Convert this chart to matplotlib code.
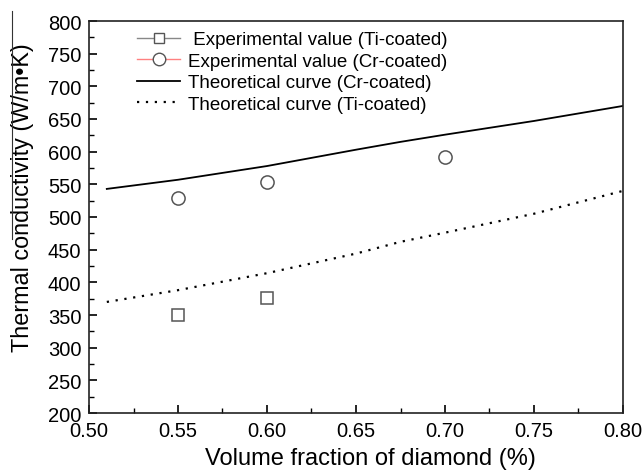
import matplotlib
matplotlib.use("Agg")
import matplotlib.pyplot as plt
from matplotlib.lines import Line2D

plt.rcParams['font.family'] = ['Liberation Sans', 'DejaVu Sans']

# Data
ti_exp_x = [0.55, 0.60]
ti_exp_y = [350, 376]
cr_exp_x = [0.55, 0.60, 0.70]
cr_exp_y = [529, 554, 592]
cr_theory_x = [0.51, 0.55, 0.60, 0.65, 0.675, 0.70, 0.75, 0.80]
cr_theory_y = [543, 557, 578, 603, 615, 626, 647, 670]
ti_theory_x = [0.51, 0.55, 0.60, 0.65, 0.675, 0.70, 0.75, 0.80]
ti_theory_y = [370, 388, 414, 444, 462, 476, 505, 540]
x_ticks = [0.50, 0.55, 0.60, 0.65, 0.70, 0.75, 0.80]
y_ticks = list(range(200, 801, 50))

fig = plt.figure(figsize=(6.44, 4.77), dpi=100)
L, R, T, B = 89, 623, 22, 414
ax = fig.add_axes([L/644, 1-B/477, (R-L)/644, (B-T)/477])

ax.plot(ti_exp_x, ti_exp_y, linestyle='none', marker='s', markersize=8,
        markerfacecolor='white', markeredgecolor='#555555', markeredgewidth=1.1)
ax.plot(cr_exp_x, cr_exp_y, linestyle='none', marker='o', markersize=9.5,
        markerfacecolor='white', markeredgecolor='#555555', markeredgewidth=1.1)
ax.plot(cr_theory_x, cr_theory_y, color='black', linewidth=1.3)
ax.plot(ti_theory_x, ti_theory_y, color='black', linewidth=1.6, linestyle=(0, (1, 3)))

ax.set_xlim(0.50, 0.80)
ax.set_ylim(200, 800)
ax.set_xticks(x_ticks)
ax.set_xticklabels([f"{v:.2f}" for v in x_ticks])
ax.set_yticks(y_ticks)
ax.set_xticks([0.525, 0.575, 0.625, 0.675, 0.725, 0.775], minor=True)
ax.set_yticks(list(range(225, 800, 50)), minor=True)
ax.tick_params(which='major', direction='in', length=6, width=1.2, labelsize=14.5)
ax.tick_params(axis='x', which='major', pad=6)
ax.tick_params(axis='y', which='major', pad=5.5)
ax.tick_params(which='minor', direction='in', length=3.5, width=1.0)
for s in ax.spines.values():
    s.set_linewidth(1.2)
    s.set_color('#222222')

ax.set_xlabel('Volume fraction of diamond (%)', fontsize=17)
ax.xaxis.set_label_coords((370 - L) / (R - L), -(448 - B) / (B - T))
ax.set_ylabel('Thermal conductivity (W/m\u2022K)', fontsize=16.8)
ax.yaxis.set_label_coords(-(L - 34) / (R - L), (B - 198) / (B - T))

handles = [
    Line2D([], [], color='#888888', linewidth=1.0, marker='s', markersize=7.5,
           markerfacecolor='white', markeredgecolor='#555555'),
    Line2D([], [], color='#ff8080', linewidth=1.0, marker='o', markersize=9,
           markerfacecolor='white', markeredgecolor='#555555'),
    Line2D([], [], color='black', linewidth=1.3),
    Line2D([], [], color='black', linewidth=1.6, linestyle=(0, (1, 3))),
]
labels = [' Experimental value (Ti-coated)', 'Experimental value (Cr-coated)',
          'Theoretical curve (Cr-coated)', 'Theoretical curve (Ti-coated)']
ax.legend(handles, labels, loc='upper left',
          bbox_to_anchor=((137 - L) / (R - L), (B - 32) / (B - T)),
          frameon=False, fontsize=13.5, handlelength=2.3, handletextpad=0.43,
          labelspacing=0.24, borderaxespad=0, borderpad=0)

fig.add_artist(Line2D([12/644, 12/644], [1-12/477, 1-240/477],
                      color='#333333', linewidth=0.8))

fig.savefig('out.png', dpi=100)
